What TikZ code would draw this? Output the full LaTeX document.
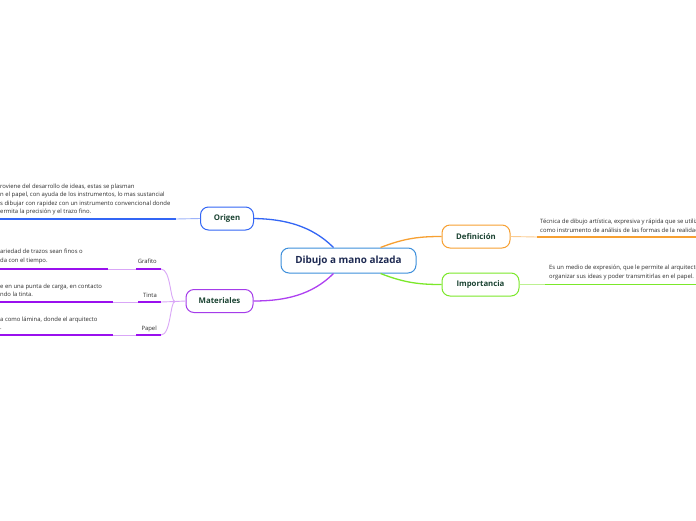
\documentclass[tikz,border=0pt]{standalone}
\usepackage{fontspec}
\setmainfont{Open Sans}
\definecolor{cblue}{HTML}{3366F5}
\definecolor{cbluel}{HTML}{9DB3FA}
\definecolor{croot}{HTML}{3D8FDB}
\definecolor{cpurp}{HTML}{9A10EE}
\definecolor{cpurpl}{HTML}{D9A6F7}
\definecolor{cpurpb}{HTML}{A53CEA}
\definecolor{corange}{HTML}{F7A032}
\definecolor{corangel}{HTML}{FBCB90}
\definecolor{cgreen}{HTML}{7BE82A}
\definecolor{cgreenl}{HTML}{BDF191}
\definecolor{ctopic}{HTML}{1B4332}
\definecolor{crtext}{HTML}{1E2A52}
\definecolor{cleaf}{HTML}{2E2E2E}
\begin{document}
\begin{tikzpicture}[x=1pt,y=-1pt,
  rootbox/.style={draw=croot, line width=1pt, rounded corners=8pt, fill=white,
    minimum width=135pt, minimum height=25pt, font=\fontsize{9.9}{12}\selectfont\bfseries, text=crtext},
  topicbox/.style={draw=#1, line width=1pt, rounded corners=8pt, fill=white,
    minimum height=23pt, inner xsep=8pt, font=\fontsize{7.8}{9}\selectfont\bfseries, text=ctopic},
  leaftext/.style={anchor=north west, inner sep=0pt, align=left, text=cleaf,
    font=\fontsize{5.9}{8.3}\selectfont},
  sublabel/.style={anchor=base east, inner sep=0pt, text=cleaf, font=\fontsize{5.9}{8.3}\selectfont},
  thickline/.style={draw=#1, line width=1.8pt},
  thinline/.style={draw=#1, line width=0.9pt},
  branch/.style={draw=#1, line width=1.3pt}
]
\useasboundingbox (0,0) rectangle (696,520);
\fill[white] (0,0) rectangle (696,520);
\clip (0,0) rectangle (696,520);

% main nodes
\node[rootbox] (root) at (348.5,260.5) {Dibujo a mano alzada};
\node[topicbox=cblue, minimum width=53pt] (origen) at (227,218.5) {Origen};
\node[topicbox=cpurpb, minimum width=67pt] (mat) at (219.5,301) {Materiales};
\node[topicbox=corange, minimum width=68pt] (def) at (476,236.5) {Definición};
\node[topicbox=cgreen, minimum width=77pt] (imp) at (480.5,284.5) {Importancia};

% branches from root
\draw[branch=cblue] ([xshift=-15pt]root.north) .. controls (312,226) and (285,219) .. (origen.east);
\draw[branch=cpurp!80] ([xshift=-15pt]root.south) .. controls (312,295) and (285,301) .. (mat.east);
\draw[branch=corange] ([xshift=32pt]root.north) .. controls (405,238) and (420,236.5) .. (def.west);
\draw[branch=cgreen] ([xshift=32pt]root.south) .. controls (405,283) and (420,284.5) .. (imp.west);

% Origen leaf
\coordinate (o0) at (-10,219);
\coordinate (o1) at (176,219);
\draw[thickline=cblue] (o0) -- (o1);
\draw[thinline=cbluel] (o1) -- (origen.west);
\node[leaftext] (otext) at (0,184) {roviene del desarrollo de ideas, estas se plasman\\
n el papel, con ayuda de los instrumentos, lo mas sustancial\\
s dibujar con rapidez con un instrumento convencional donde\\
ermita la precisión y el trazo fino.};

% Definición leaf
\coordinate (d1) at (537,237);
\coordinate (d2) at (710,237);
\draw[thinline=corangel] (def.east) -- (d1);
\draw[thickline=corange] (d1) -- (d2);
\node[leaftext] (dtext) at (540,219) {Técnica de dibujo artística, expresiva y rápida que se utiliza\\
como instrumento de análisis de las formas de la realidad.};

% Importancia leaf
\coordinate (i1) at (545,284.5);
\coordinate (i2) at (710,284.5);
\draw[thinline=cgreenl] (imp.east) -- (i1);
\draw[thickline=cgreen] (i1) -- (i2);
\node[leaftext] (itext) at (549,265) {Es un medio de expresión, que le permite al arquitecto\\
organizar sus ideas y poder transmitirlas en el papel.};

% Materiales sub-branches
\coordinate (mj) at (175,301.5);
\coordinate (g2) at (161,269);
\coordinate (t2) at (161,302);
\coordinate (p2) at (161,335);
\draw[thinline=cpurpl] (mat.west) -- (mj);
\draw[thinline=cpurpl] (mj) .. controls (170,301.5) and (171,269) .. (g2);
\draw[thinline=cpurpl] (mj) -- (t2);
\draw[thinline=cpurpl] (mj) .. controls (170,301.5) and (171,335) .. (p2);

% Grafito
\coordinate (g1) at (136,269);
\coordinate (g0) at (108,269);
\coordinate (gm) at (-10,269);
\draw[thickline=cpurp] (g1) -- (g2);
\draw[thinline=cpurpl] (g0) -- (g1);
\draw[thickline=cpurp] (gm) -- (g0);
\node[sublabel] (glab) at (157,263) {Grafito};
\node[leaftext] (gtext) at (0,249) {ariedad de trazos sean finos o\\
da con el tiempo.};

% Tinta
\coordinate (t1) at (138,302);
\coordinate (t0) at (113,302);
\coordinate (tm) at (-10,302);
\draw[thickline=cpurp] (t1) -- (t2);
\draw[thinline=cpurpl] (t0) -- (t1);
\draw[thickline=cpurp] (tm) -- (t0);
\node[sublabel] (tlab) at (157,297) {Tinta};
\node[leaftext] (ttext) at (0,283.5) {e en una punta de carga, en contacto\\
ndo la tinta.};

% Papel
\coordinate (p1) at (136,335);
\coordinate (p0) at (113,335);
\coordinate (pm) at (-10,335);
\draw[thickline=cpurp] (p1) -- (p2);
\draw[thinline=cpurpl] (p0) -- (p1);
\draw[thickline=cpurp] (pm) -- (p0);
\node[sublabel] (plab) at (157,330) {Papel};
\node[leaftext] (ptext) at (0,316.5) {a como lámina, donde el arquitecto\\
.};
\end{tikzpicture}
\end{document}
